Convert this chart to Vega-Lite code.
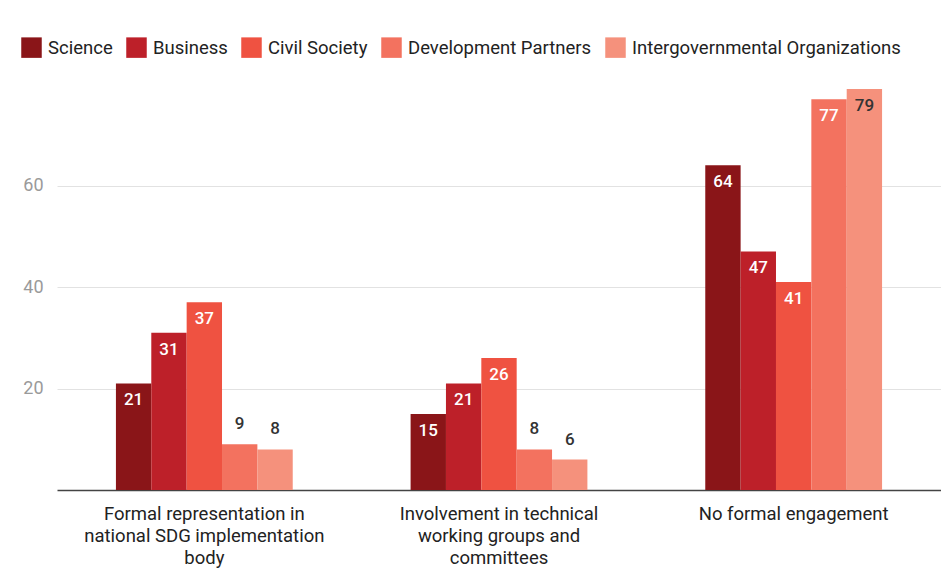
{
  "$schema": "https://vega.github.io/schema/vega-lite/v6.json",
  "width": 884,
  "height": 406,
  "autosize": "none",
  "padding": {"left": 57, "top": 84, "right": 0, "bottom": 83},
  "background": "#ffffff",
  "config": {"font": "Roboto", "view": {"stroke": null}},
  "data": {"values": [
    {"category": "Formal representation in national SDG implementation body", "series": "Science", "value": 21},
    {"category": "Formal representation in national SDG implementation body", "series": "Business", "value": 31},
    {"category": "Formal representation in national SDG implementation body", "series": "Civil Society", "value": 37},
    {"category": "Formal representation in national SDG implementation body", "series": "Development Partners", "value": 9},
    {"category": "Formal representation in national SDG implementation body", "series": "Intergovernmental Organizations", "value": 8},
    {"category": "Involvement in technical working groups and committees", "series": "Science", "value": 15},
    {"category": "Involvement in technical working groups and committees", "series": "Business", "value": 21},
    {"category": "Involvement in technical working groups and committees", "series": "Civil Society", "value": 26},
    {"category": "Involvement in technical working groups and committees", "series": "Development Partners", "value": 8},
    {"category": "Involvement in technical working groups and committees", "series": "Intergovernmental Organizations", "value": 6},
    {"category": "No formal engagement", "series": "Science", "value": 64},
    {"category": "No formal engagement", "series": "Business", "value": 47},
    {"category": "No formal engagement", "series": "Civil Society", "value": 41},
    {"category": "No formal engagement", "series": "Development Partners", "value": 77},
    {"category": "No formal engagement", "series": "Intergovernmental Organizations", "value": 79}
  ]},
  "encoding": {
    "x": {
      "field": "category", "type": "nominal", "sort": null,
      "scale": {"paddingInner": 0.4, "paddingOuter": 0.2},
      "axis": {
        "title": null, "labelAngle": 0, "ticks": false, "domainColor": "#444", "domainWidth": 1.5,
        "labelFontSize": 18.5, "labelColor": "#222", "labelPadding": 14, "labelLineHeight": 22, "labelLimit": 0,
        "labelBaseline": "top",
        "labelExpr": "datum.value == 'Formal representation in national SDG implementation body' ? ['Formal representation in','national SDG implementation','body'] : datum.value == 'Involvement in technical working groups and committees' ? ['Involvement in technical','working groups and','committees'] : datum.value"
      }
    },
    "xOffset": {"field": "series", "type": "nominal", "sort": ["Science", "Business", "Civil Society", "Development Partners", "Intergovernmental Organizations"], "scale": {"paddingInner": 0, "paddingOuter": 0}},
    "y": {
      "field": "value", "type": "quantitative",
      "scale": {"domain": [0, 80], "nice": false},
      "axis": {"title": null, "values": [20, 40, 60], "grid": true, "gridColor": "#e2e2e2", "domain": false, "ticks": false,
               "labelColor": "#9a9a9a", "labelFontSize": 18, "labelPadding": 14}
    }
  },
  "layer": [
    {
      "mark": {"type": "bar"},
      "encoding": {
        "color": {
          "field": "series", "type": "nominal",
          "sort": ["Science", "Business", "Civil Society", "Development Partners", "Intergovernmental Organizations"],
          "scale": {"domain": ["Science", "Business", "Civil Society", "Development Partners", "Intergovernmental Organizations"],
                    "range": ["#8a1518", "#bd2029", "#ef5241", "#f3725f", "#f5917c"]},
          "legend": {
            "title": null, "orient": "none", "legendX": -36, "legendY": -47, "direction": "horizontal",
            "symbolType": "square", "symbolSize": 420, "symbolStrokeWidth": 0, "labelFontSize": 18.5, "labelColor": "#222",
            "columnPadding": 13, "labelOffset": 6, "labelLimit": 0
          }
        }
      }
    },
    {
      "transform": [{"filter": "datum.value >= 10"}],
      "mark": {"type": "text", "baseline": "top", "dy": 9, "fontSize": 17, "fontWeight": 500},
      "encoding": {
        "text": {"field": "value", "type": "quantitative"},
        "color": {"condition": {"test": "datum.series == 'Intergovernmental Organizations'", "value": "#333333"}, "value": "#ffffff"}
      }
    },
    {
      "transform": [{"filter": "datum.value < 10"}],
      "mark": {"type": "text", "baseline": "bottom", "dy": -11, "fontSize": 17, "fontWeight": 500, "color": "#333333"},
      "encoding": {
        "text": {"field": "value", "type": "quantitative"}
      }
    }
  ]
}
